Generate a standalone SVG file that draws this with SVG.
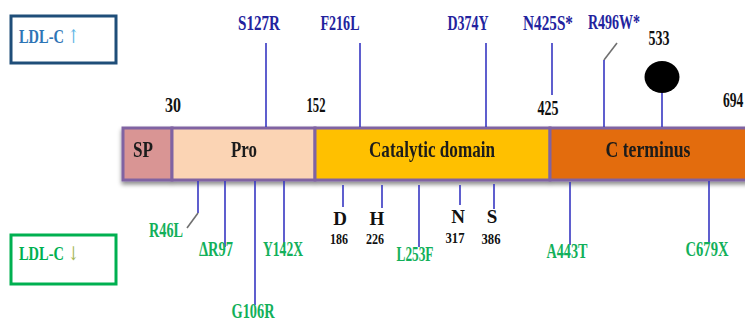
<svg xmlns="http://www.w3.org/2000/svg" width="745" height="321" viewBox="0 0 745 321">
<defs>
<filter id="sh" x="-5%" y="-20%" width="110%" height="160%">
<feDropShadow dx="0" dy="3" stdDeviation="2" flood-color="#000" flood-opacity="0.45"/>
</filter>
</defs>
<style>
text{font-family:"Liberation Serif","Times New Roman",serif;font-weight:bold;}
.top{fill:#23239E;font-size:20px;text-anchor:middle;}
.bot{fill:#12B05A;font-size:20px;text-anchor:middle;}
.num{fill:#111;font-size:20px;text-anchor:middle;}
.res{fill:#111;font-size:19px;text-anchor:middle;}
.resn{fill:#111;font-size:15px;text-anchor:middle;}
.dom{fill:#1a1a1a;font-size:23px;text-anchor:middle;}
.ln{stroke:#3636C2;stroke-width:1.6;fill:none;}
.gl{stroke:#707070;stroke-width:1.6;fill:none;}
.seg{stroke:#8064A2;stroke-width:3;}
.arr{font-family:"DejaVu Serif","Liberation Serif",serif;font-weight:normal;}
</style>

<g id="legend-up">
<rect x="11" y="16" width="105" height="47" fill="#fff" stroke="#1F4E79" stroke-width="3"/>
<text transform="translate(19,43) scale(0.76,1)" font-size="19" fill="#2E75B6">LDL-C <tspan class="arr" fill="#5BB4E5">↑</tspan></text>
</g>
<g id="legend-down">
<rect x="11" y="235" width="105" height="49" fill="#fff" stroke="#00B050" stroke-width="3"/>
<text transform="translate(19,260) scale(0.76,1)" font-size="19" fill="#00B050">LDL-C <tspan class="arr" fill="#A8B85A">↓</tspan></text>
</g>

<g id="protein" filter="url(#sh)">
<g id="sp"><rect class="seg" x="123" y="128" width="49" height="52" fill="#D99594"/>
<text class="dom" x="143" y="157" textLength="20" lengthAdjust="spacingAndGlyphs">SP</text></g>
<g id="pro"><rect class="seg" x="172" y="128" width="143" height="52" fill="#FBD4B4"/>
<text class="dom" x="244" y="157" textLength="26" lengthAdjust="spacingAndGlyphs">Pro</text></g>
<g id="catalytic"><rect class="seg" x="315" y="128" width="235" height="52" fill="#FFC000"/>
<text class="dom" x="432" y="157" textLength="126" lengthAdjust="spacingAndGlyphs">Catalytic domain</text></g>
<g id="cterm"><rect class="seg" x="550" y="128" width="200" height="52" fill="#E36C09"/>
<text class="dom" x="648" y="157" textLength="85" lengthAdjust="spacingAndGlyphs">C terminus</text></g>
</g>

<g id="connectors">
<line class="ln" x1="266" y1="43" x2="266" y2="127"/>
<line class="ln" x1="360" y1="43" x2="360" y2="127"/>
<line class="ln" x1="486" y1="43" x2="486" y2="127"/>
<line class="ln" x1="552" y1="43" x2="552" y2="95"/>
<line class="gl" x1="617" y1="43" x2="604" y2="60"/>
<line class="ln" x1="604" y1="60" x2="604" y2="127"/>
<line class="ln" x1="662" y1="92" x2="662" y2="127"/>
<line class="ln" x1="198" y1="181" x2="198" y2="213"/>
<line class="gl" x1="198" y1="213" x2="187" y2="228"/>
<line class="ln" x1="225" y1="181" x2="225" y2="247"/>
<line class="ln" x1="255" y1="181" x2="255" y2="305"/>
<line class="ln" x1="284" y1="181" x2="284" y2="247"/>
<line class="ln" x1="343" y1="185" x2="343" y2="207"/>
<line class="ln" x1="382" y1="185" x2="382" y2="208"/>
<line class="ln" x1="419" y1="185" x2="419" y2="247"/>
<line class="ln" x1="460" y1="185" x2="460" y2="205"/>
<line class="ln" x1="494" y1="184" x2="494" y2="209"/>
<line class="ln" x1="570" y1="182" x2="570" y2="245"/>
<line class="ln" x1="709" y1="181" x2="709" y2="242"/>
</g>

<g id="glyco-533">
<ellipse cx="662" cy="77" rx="17.5" ry="16" fill="#000"/>
<text class="num" transform="translate(659,45) scale(0.7,1)">533</text>
</g>

<g id="positions">
<text class="num" x="173" y="112" textLength="16" lengthAdjust="spacingAndGlyphs">30</text>
<text class="num" x="316" y="112" textLength="19" lengthAdjust="spacingAndGlyphs">152</text>
<text class="num" x="548" y="115" textLength="21" lengthAdjust="spacingAndGlyphs">425</text>
<text class="num" transform="translate(723,107) scale(0.68,1)" style="text-anchor:start">694</text>
</g>

<g id="gof">
<text class="top" x="259" y="30" textLength="42" lengthAdjust="spacingAndGlyphs">S127R</text>
<text class="top" x="340" y="30" textLength="39" lengthAdjust="spacingAndGlyphs">F216L</text>
<text class="top" x="468" y="30" textLength="41" lengthAdjust="spacingAndGlyphs">D374Y</text>
<text class="top" x="548" y="30" textLength="50" lengthAdjust="spacingAndGlyphs">N425S*</text>
<text class="top" transform="translate(614,29) scale(0.7,1)">R496W*</text>
</g>

<g id="lof">
<text class="bot" x="166" y="237" textLength="34" lengthAdjust="spacingAndGlyphs">R46L</text>
<text class="bot" x="216" y="256" textLength="34" lengthAdjust="spacingAndGlyphs">ΔR97</text>
<text class="bot" x="283" y="256" textLength="40" lengthAdjust="spacingAndGlyphs">Y142X</text>
<text class="bot" x="253" y="318" textLength="43" lengthAdjust="spacingAndGlyphs">G106R</text>
<text class="bot" x="415" y="261" textLength="37" lengthAdjust="spacingAndGlyphs">L253F</text>
<text class="bot" x="567" y="258" textLength="41" lengthAdjust="spacingAndGlyphs">A443T</text>
<text class="bot" x="707" y="256" textLength="43" lengthAdjust="spacingAndGlyphs">C679X</text>
</g>

<g id="catalytic-triad">
<text class="res" x="340" y="225">D</text>
<text class="resn" x="339" y="244" textLength="18" lengthAdjust="spacingAndGlyphs">186</text>
<text class="res" x="377" y="225">H</text>
<text class="resn" x="375" y="244" textLength="18" lengthAdjust="spacingAndGlyphs">226</text>
<text class="res" x="458" y="223">N</text>
<text class="resn" x="455" y="243" textLength="19" lengthAdjust="spacingAndGlyphs">317</text>
<text class="res" x="492" y="223">S</text>
<text class="resn" x="491" y="244" textLength="19" lengthAdjust="spacingAndGlyphs">386</text>
</g>
</svg>
